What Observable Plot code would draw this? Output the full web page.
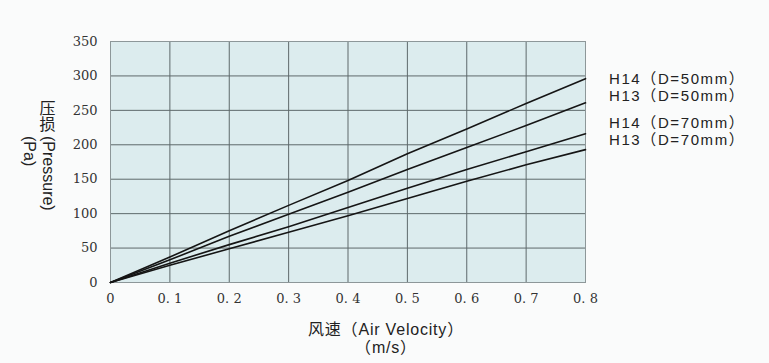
<!DOCTYPE html>
<html>
<head>
<meta charset="utf-8">
<script src="https://cdn.jsdelivr.net/npm/d3@7"></script>
<script src="https://cdn.jsdelivr.net/npm/@observablehq/plot@0.6"></script>
<style>
  html, body { margin: 0; padding: 0; background: #fafbfb; }
  #wrap { position: relative; width: 769px; height: 363px; overflow: hidden; }
  .lab {
    position: absolute;
    font-family: "Liberation Sans", "Noto Sans CJK SC", sans-serif;
    font-size: 16px; line-height: 18px; color: #222; white-space: nowrap;
  }
  .rot { transform-origin: 0 0; transform: rotate(90deg); }
  #xlab {
    position: absolute; left: 286px; width: 200px; top: 321px;
    text-align: center;
    font-family: "Liberation Sans", "Noto Sans CJK SC", sans-serif;
    font-size: 16px; line-height: 18px; color: #222; letter-spacing: 0.8px;
  }
  #legend {
    position: absolute; left: 609px; top: 70px;
    font-family: "Liberation Sans", "Noto Sans CJK SC", sans-serif;
    font-size: 15px; line-height: 17px; color: #222; letter-spacing: 1.6px;
  }
  #legend .gap { margin-top: 10px; }
</style>
</head>
<body>
<div id="wrap"></div>
<script>
// Data
const velocity = [0, 0.1, 0.2, 0.3, 0.4, 0.5, 0.6, 0.7, 0.8];
const h14_50 = [0, 37, 75, 112, 148, 187, 223, 260, 296];
const h13_50 = [0, 33, 67, 99, 131, 164, 196, 228, 261];
const h14_70 = [0, 28, 55, 81, 109, 137, 164, 190, 216];
const h13_70 = [0, 25, 49, 73, 97, 122, 147, 171, 193];
const seriesNames = ["H14（D=50mm）", "H13（D=50mm）", "H14（D=70mm）", "H13（D=70mm）"];
const xTicks = [0, 0.1, 0.2, 0.3, 0.4, 0.5, 0.6, 0.7, 0.8];
const yTicks = [0, 50, 100, 150, 200, 250, 300, 350];
const xLabelLines = ["风速（Air Velocity）", "（m/s）"];
const yLabelCJK = ["压", "损"];
const yLabelLatin = ["(Pressure)", "(Pa)"];

const seriesValues = [h14_50, h13_50, h14_70, h13_70];
const data = [];
seriesValues.forEach((vals, i) => {
  vals.forEach((v, j) => data.push({series: seriesNames[i], x: velocity[j], y: v}));
});

const xFmt = d => d === 0 ? "0" : d3.format(".1f")(d).replace(".", ". ");

const chart = Plot.plot({
  width: 769,
  height: 363,
  marginLeft: 110,
  marginRight: 184,
  marginTop: 41,
  marginBottom: 81,
  style: {background: "transparent", fontFamily: "DejaVu Serif", fontSize: "13px", color: "#333"},
  x: {domain: [0, 0.8]},
  y: {domain: [0, 350]},
  marks: [
    Plot.frame({fill: "#dcecee", stroke: null}),
    Plot.gridX(xTicks, {stroke: "#5e696b", strokeOpacity: 1, strokeWidth: 1}),
    Plot.gridY(yTicks, {stroke: "#5e696b", strokeOpacity: 1, strokeWidth: 1}),
    Plot.frame({stroke: "#8d9799", strokeWidth: 1}),
    Plot.line(data, {x: "x", y: "y", z: "series", stroke: "#151515", strokeWidth: 1.6}),
    Plot.axisX({ticks: xTicks, tickSize: 0, tickPadding: 11, tickFormat: xFmt, label: null, fill: "#333"}),
    Plot.axisY({ticks: yTicks, tickSize: 0, tickPadding: 13, label: null, fill: "#333"})
  ]
});

const wrap = document.getElementById("wrap");
wrap.appendChild(chart);

function addLab(text, left, top, rotated) {
  const d = document.createElement("div");
  d.className = "lab" + (rotated ? " rot" : "");
  d.textContent = text;
  d.style.left = left + "px";
  d.style.top = top + "px";
  wrap.appendChild(d);
  return d;
}
// y-axis label: CJK upright, Latin rotated clockwise (vertical writing)
const colRight = 47.5, colLeft = 28.5;
const cjk = addLab(yLabelCJK.join("\n"), colRight - 8, 101, false);
cjk.style.whiteSpace = "pre";
cjk.style.lineHeight = "16px";
addLab(yLabelLatin[0], colRight + 9, 136, true);
addLab(yLabelLatin[1], colLeft + 9, 136, true);

const xlab = document.createElement("div");
xlab.id = "xlab";
xLabelLines.forEach(t => {
  const d = document.createElement("div");
  d.textContent = t;
  xlab.appendChild(d);
});
wrap.appendChild(xlab);

const legend = document.createElement("div");
legend.id = "legend";
seriesNames.forEach((t, i) => {
  const d = document.createElement("div");
  d.textContent = t;
  if (i === 2) d.className = "gap";
  legend.appendChild(d);
});
wrap.appendChild(legend);
</script>
</body>
</html>
